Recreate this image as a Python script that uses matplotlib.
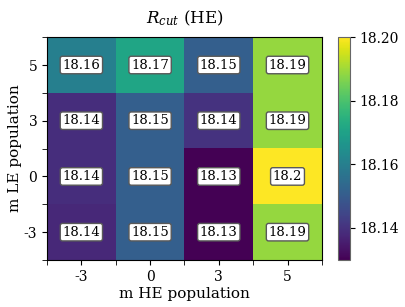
import matplotlib
matplotlib.use("Agg")
import matplotlib.pyplot as plt
import numpy as np

plt.rcParams['font.family'] = ['DejaVu Serif']
plt.rcParams['mathtext.fontset'] = 'dejavuserif'

x_labels = ["-3", "0", "3", "5"]
y_labels = ["5", "3", "0", "-3"]
values = np.array([
    [18.160, 18.171, 18.151, 18.189],
    [18.139, 18.151, 18.140, 18.189],
    [18.139, 18.151, 18.1298, 18.200],
    [18.138, 18.151, 18.1300, 18.189],
])
labels = [
    ["18.16", "18.17", "18.15", "18.19"],
    ["18.14", "18.15", "18.14", "18.19"],
    ["18.14", "18.15", "18.13", "18.2"],
    ["18.14", "18.15", "18.13", "18.19"],
]

fig = plt.figure(figsize=(4.06, 3.07), dpi=100)
ax = fig.add_axes([0.1158, 0.153, 0.677, 0.726])
cax = fig.add_axes([0.8325, 0.153, 0.0296, 0.726])

im = ax.imshow(values, cmap='viridis', aspect='auto',
               vmin=values.min(), vmax=values.max())
ax.set_xticks(range(len(x_labels)))
ax.set_xticklabels(x_labels, fontsize=10)
ax.set_yticks(range(len(y_labels)))
ax.set_yticklabels(y_labels, fontsize=10)
ax.set_xticks(np.arange(-0.5, len(x_labels), 1), minor=True)
ax.set_yticks(np.arange(-0.5, len(y_labels), 1), minor=True)
ax.tick_params(which='minor', length=3.5)
ax.set_xlabel("m HE population", fontsize=11, labelpad=2)
ax.set_ylabel("m LE population", fontsize=11, labelpad=1)
ax.set_title(r"$R_{cut}$ (HE)", fontsize=12, pad=10)

for i in range(values.shape[0]):
    for j in range(values.shape[1]):
        ax.text(j, i, labels[i][j], ha='center', va='center', fontsize=9.5,
                bbox=dict(boxstyle='round,pad=0.17', facecolor='white',
                          edgecolor='0.35', linewidth=1))

cb = fig.colorbar(im, cax=cax)
cb.set_ticks([18.14, 18.16, 18.18, 18.20])
cb.set_ticklabels(["18.14", "18.16", "18.18", "18.20"])
cb.ax.tick_params(labelsize=10)
cb.outline.set_edgecolor('0.4')

fig.savefig("out.png", dpi=100)
